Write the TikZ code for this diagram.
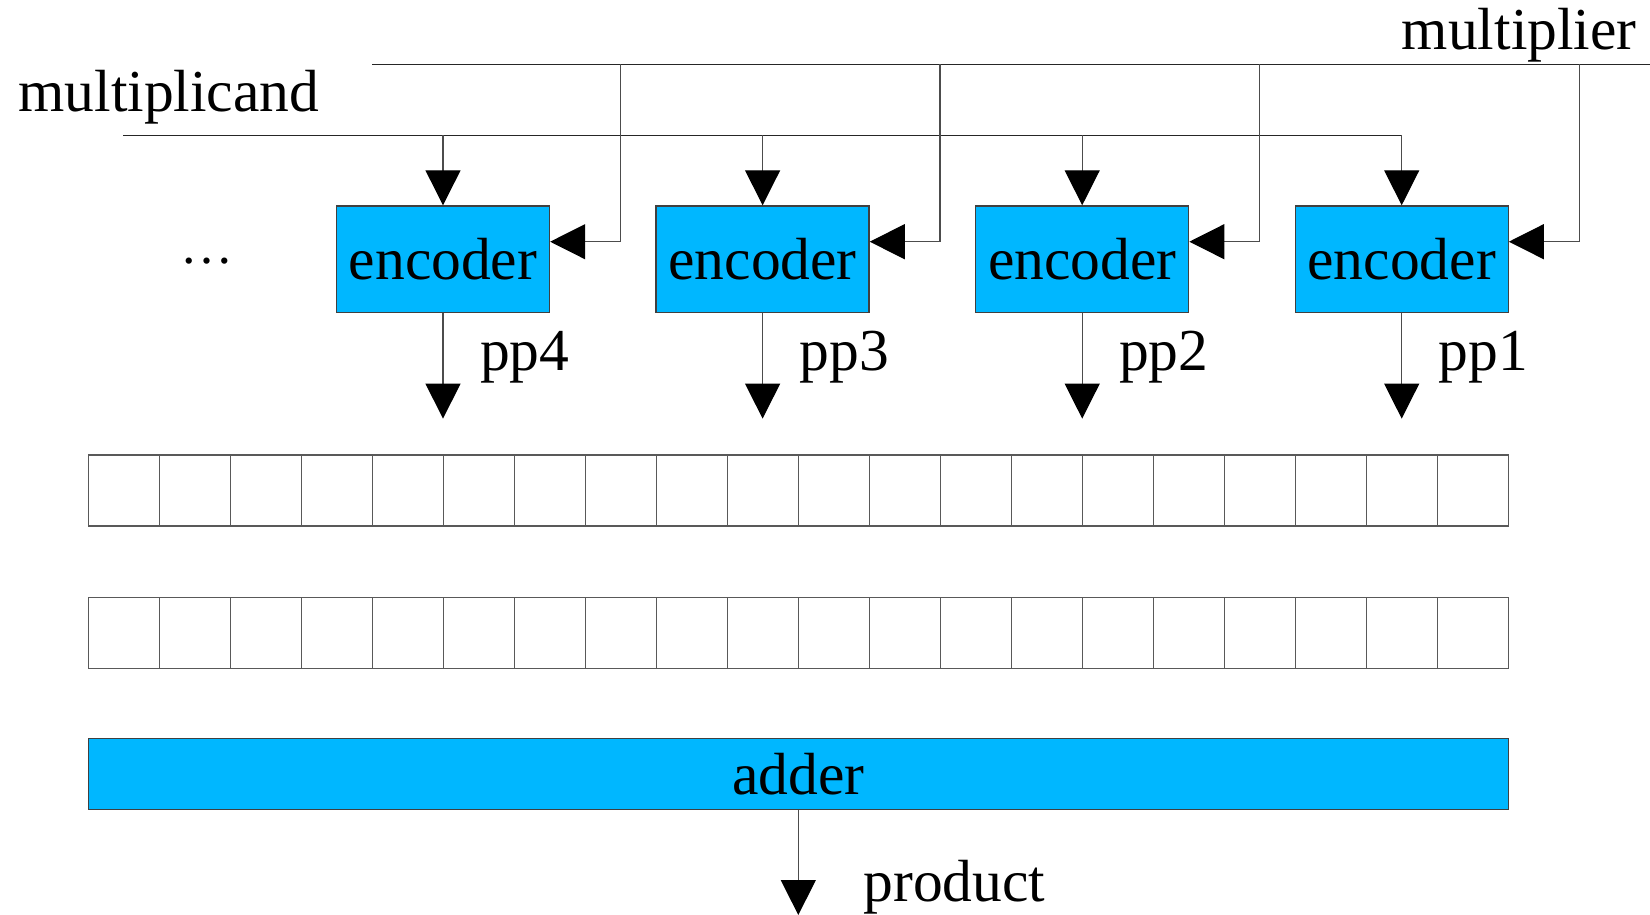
\documentclass[tikz,border=0pt]{standalone}
\usepackage{fontspec}
\setmainfont{Liberation Serif}
\usetikzlibrary{arrows.meta}
\definecolor{encblue}{RGB}{0,183,255}
\begin{document}
\begin{tikzpicture}[x=1pt,y=-1pt,
  bus/.style={draw=black!85, line width=1.2pt},
  wire/.style={draw=black!70, line width=1.2pt},
  tip/.style={-{Triangle[width=35pt,length=35pt,color=black]}},
  unit/.style={draw=black!75, line width=1.3pt, fill=encblue, inner sep=0pt,
    font=\fontsize{59.5}{70}\selectfont},
  enc/.style={unit, minimum width=213pt, minimum height=106.7pt},
  cell/.style={draw=black!65, line width=1.3pt, minimum width=71pt,
    minimum height=71pt, inner sep=0pt},
  lbl/.style={font=\fontsize{59.5}{70}\selectfont, inner sep=0pt, anchor=base west}
]
\useasboundingbox (0,0) rectangle (1650,915);

% bus labels and the two input buses
\node[lbl] (mrlabel) at (1401.7,50) {multiplier};
\node[lbl] (mdlabel) at (18.3,111.7) {multiplicand};
\coordinate (mrL) at (372,64.3);
\coordinate (mrR) at (1650,64.3);
\coordinate (mdL) at (123.3,135.3);
\draw[bus] (mrL) -- (mrR);

% four encoders
\node[enc] (e4) at (443.0,259.3) {encoder};
\node[enc] (e3) at (762.6,259.3) {encoder};
\node[enc] (e2) at (1082.2,259.3) {encoder};
\node[enc] (e1) at (1401.7,259.3) {encoder};
\node[font=\fontsize{53}{60}\selectfont, inner sep=0pt, anchor=base] (dots) at (207,263) {…};

\coordinate (md1) at (e1.north |- mdL);
\draw[bus] (mdL) -- (md1);

\foreach \i/\sx in {4/620.3, 3/939.9, 2/1259.5, 1/1579.3}{
  % multiplicand tap, multiplier tap and partial-product output
  \coordinate (t\i) at (e\i.north |- mdL);
  \coordinate (s\i) at (\sx,64.3);
  \coordinate (p\i) at ([yshift=-105.3pt]e\i.south);
  \draw[wire,tip] (t\i) -- (e\i.north);
  \draw[wire,tip] (s\i) |- ([yshift=17.6pt]e\i.east);
  \draw[wire,tip] (e\i.south) -- (p\i);
  \node[lbl] (l\i) at ([xshift=36.8pt]e\i.center |- 0,370) {pp\i};
}

% two partial-product rows
\foreach \k in {0,...,19}{
  \node[cell] (a\k) at (123.8+71*\k,490.5) {};
  \node[cell] (b\k) at (123.8+71*\k,632.7) {};
}

% final adder
\node[unit, minimum width=1420pt, minimum height=71pt] (adder) at (798.3,773.8) {adder};
\coordinate (out) at (798.3,915);
\draw[wire,tip] (adder.south) -- (out);
\node[lbl] (prod) at (863.3,901.7) {product};
\end{tikzpicture}
\end{document}
